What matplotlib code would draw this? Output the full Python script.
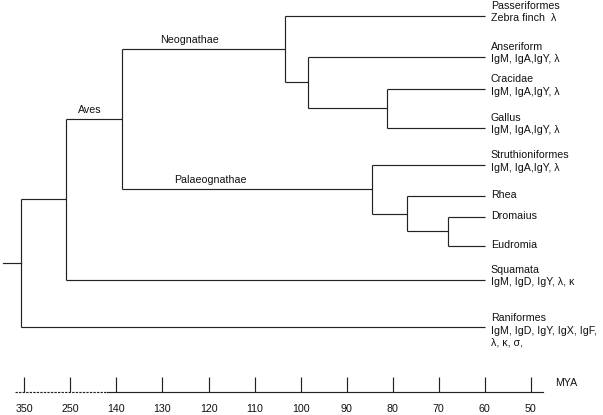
import numpy as np
import matplotlib
matplotlib.use("Agg")
import matplotlib.pyplot as plt

plt.rcParams['font.family'] = ['Liberation Sans', 'DejaVu Sans']
plt.rcParams['font.size'] = 7.7

# time scale (broken axis: equal spacing between ticks)
tick_mya = [350, 250, 140, 130, 120, 110, 100, 90, 80, 70, 60, 50]

# leaves, top to bottom
leaves = ['Passeriformes', 'Anseriform', 'Cracidae', 'Gallus', 'Struthioniformes',
          'Rhea', 'Dromaius', 'Eudromia', 'Squamata', 'Raniformes']
leaf_text = ['Passeriformes\nZebra finch  λ',
             'Anseriform\nIgM, IgA,IgY, λ',
             'Cracidae\nIgM, IgA,IgY, λ',
             'Gallus\nIgM, IgA,IgY, λ',
             'Struthioniformes\nIgM, IgA,IgY, λ',
             'Rhea',
             'Dromaius',
             'Eudromia',
             'Squamata\nIgM, IgD, IgY, λ, κ',
             'Raniformes\nIgM, IgD, IgY, IgX, IgF,\nλ, κ, σ,']
leaf_row = [15.5, 56.5, 89, 127.5, 165, 196.3, 216.7, 245.7, 279.5, 327]
tip_age = 60

# internal nodes (age in MYA)
nodes = ['root', 'tetrapoda', 'Aves', 'Neognathae', 'anser_galli', 'galli',
         'Palaeognathae', 'rhea_emu', 'emu']
node_age = [358, 259, 138.8, 103.5, 98.3, 81.3, 84.6, 77.0, 68.1]
node_children = [['tetrapoda', 'Raniformes'], ['Aves', 'Squamata'],
                 ['Neognathae', 'Palaeognathae'], ['Passeriformes', 'anser_galli'],
                 ['Anseriform', 'galli'], ['Cracidae', 'Gallus'],
                 ['Struthioniformes', 'rhea_emu'], ['Rhea', 'emu'], ['Dromaius', 'Eudromia']]
root_stem_age = 396

clade_names = ['Aves', 'Neognathae', 'Palaeognathae']
clade_label_age = [204, 124.2, 119.5]


def to_x(mya):
    # position on the broken scale, one unit per tick
    if mya > tick_mya[0]:
        return -(mya - tick_mya[0]) / (tick_mya[0] - tick_mya[1])
    return np.interp(-mya, -np.array(tick_mya, float), np.arange(len(tick_mya)))


age = dict(zip(nodes, node_age))
children = dict(zip(nodes, node_children))
ypos = dict(zip(leaves, leaf_row))
for l in leaves:
    age[l] = tip_age


def get_y(n):
    if n not in ypos:
        ypos[n] = np.mean([get_y(c) for c in children[n]])
    return ypos[n]


get_y('root')

fig = plt.figure(figsize=(6.03, 4.15), dpi=100)
ax = fig.add_axes([0, 23 / 415, 1, 392 / 415])
ax.set_xlim(-0.528, 12.565)
ax.set_ylim(392, 0)

lc = '#222222'
tc = '#111111'
lw = 0.85
for n in nodes:
    ys = [ypos[c] for c in children[n]]
    x = to_x(age[n])
    ax.plot([x, x], [min(ys), max(ys)], color=lc, lw=lw, solid_capstyle='butt')
    for c in children[n]:
        ax.plot([x, to_x(age[c])], [ypos[c], ypos[c]], color=lc, lw=lw, solid_capstyle='butt')
ax.plot([to_x(root_stem_age), to_x(age['root'])], [ypos['root']] * 2, color=lc, lw=lw)

for l, t in zip(leaves, leaf_text):
    nl = t.count('\n') + 1
    if nl == 1:
        yc = ypos[l] - 1
    else:
        yc = ypos[l] + 3.5 + ((nl - 1) / 2 - 1) * 13.8
    ax.text(to_x(tip_age) + 0.13, yc, t, ha='left', va='center', linespacing=1.3, color=tc)

for c, a in zip(clade_names, clade_label_age):
    ax.text(to_x(a), ypos[c] - 4, c, ha='center', va='bottom', color=tc)

# time axis
for s in ['top', 'left', 'right']:
    ax.spines[s].set_visible(False)
ax.spines['bottom'].set_bounds(1.8, 11.26)
ax.spines['bottom'].set_color(lc)
ax.spines['bottom'].set_linewidth(lw)
ax.plot([-0.2, 1.8], [392, 392], color=lc, lw=lw, ls=(0, (2, 1)), clip_on=False)
ax.set_xticks(range(len(tick_mya)))
ax.set_xticklabels([str(v) for v in tick_mya])
ax.tick_params(axis='x', direction='in', length=10.8, width=lw, color=lc, pad=8.5, labelcolor=tc)
ax.set_yticks([])
ax.annotate('MYA', xy=(566 / 603, 1 - 383 / 415), xycoords='figure fraction',
            ha='center', va='center', color=tc)

fig.savefig('out.png', dpi=100)
